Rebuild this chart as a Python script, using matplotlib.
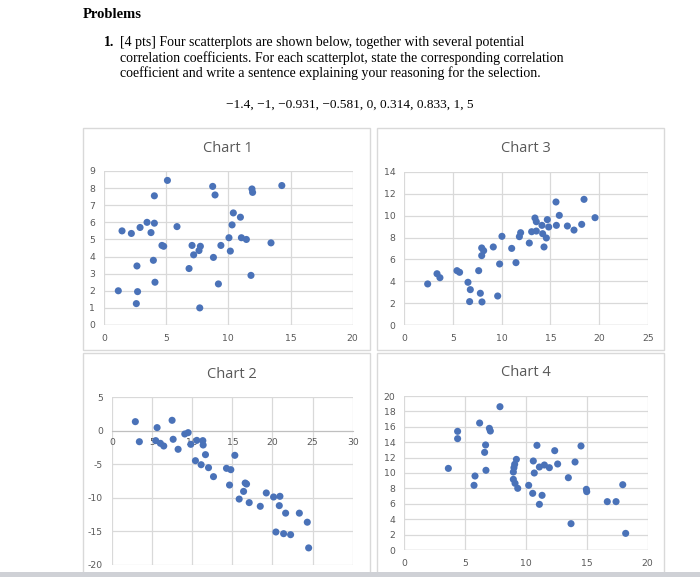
import numpy as np
import matplotlib.pyplot as plt
from matplotlib.patches import Rectangle

plt.rcParams['axes.unicode_minus'] = False

# chart 1
c1_x = [1.15, 1.45, 2.2, 2.65, 2.7, 2.6, 2.9, 3.46, 3.78, 4.05, 4.05, 3.97, 4.1, 4.66,
        4.8, 5.1, 5.87, 6.84, 7.08, 7.21, 7.64, 7.75, 7.7, 8.74, 8.93, 8.8, 9.2, 9.4,
        10.05, 10.16, 10.3, 10.4, 10.97, 11.05, 11.45, 11.9, 11.95, 11.82, 13.43, 14.3]
c1_y = [2.0, 5.5, 5.35, 3.45, 1.95, 1.25, 5.7, 6.0, 5.4, 7.55, 5.95, 3.78, 2.5, 4.65,
        4.6, 8.45, 5.75, 3.3, 4.65, 4.1, 4.35, 4.6, 1.0, 8.1, 7.6, 3.95, 2.4, 4.65,
        5.1, 4.32, 5.85, 6.55, 6.3, 5.1, 5.0, 7.95, 7.75, 2.9, 4.8, 8.15]

# chart 2
c2_x = [2.91, 3.41, 5.62, 5.45, 6.03, 6.45, 7.49, 7.62, 8.24, 9.07, 9.49, 9.82, 10.4,
        10.57, 11.11, 11.32, 11.36, 11.65, 12.03, 12.65, 14.27, 14.81, 14.65, 15.31,
        15.85, 16.4, 16.6, 16.77, 17.1, 18.48, 19.23, 20.14, 20.43, 20.93, 20.85,
        21.39, 21.64, 22.26, 23.35, 24.34, 24.51]
c2_y = [1.37, -1.62, 0.48, -1.46, -1.86, -2.26, 1.57, -1.26, -2.75, -0.47, -0.27, -2.01,
        -4.45, -1.42, -5.05, -1.46, -2.11, -3.55, -5.49, -6.83, -5.59, -5.79, -8.08,
        -3.65, -10.17, -9.03, -7.78, -7.93, -10.7, -11.25, -9.26, -9.86, -15.08, -9.76,
        -11.15, -15.33, -12.27, -15.48, -12.27, -13.62, -17.45]

# chart 3
c3_x = [2.4, 3.36, 3.66, 5.41, 5.68, 6.54, 6.78, 6.71, 7.64, 7.81, 7.98, 7.95, 8.15,
        7.95, 9.14, 9.59, 9.79, 10.03, 11.03, 11.47, 11.82, 11.95, 12.84, 13.08, 13.42,
        13.56, 13.56, 14.14, 14.21, 14.35, 14.59, 14.69, 14.83, 15.58, 15.62, 15.92,
        16.75, 17.43, 18.22, 18.46, 19.59]
c3_y = [3.77, 4.7, 4.34, 4.98, 4.83, 3.92, 3.25, 2.16, 4.98, 2.92, 2.13, 7.05, 6.8,
        6.35, 7.14, 2.67, 5.59, 8.11, 7.01, 5.71, 8.08, 8.44, 7.5, 8.53, 9.78, 9.44,
        8.59, 9.11, 8.35, 7.14, 7.96, 9.63, 8.96, 11.24, 9.11, 10.02, 9.05, 8.68, 9.2,
        11.48, 9.81]

# chart 4
c4_x = [3.62, 4.38, 4.38, 5.73, 5.81, 6.19, 6.6, 6.68, 6.71, 6.99, 7.07, 7.86, 8.96,
        8.96, 9.01, 9.07, 9.1, 9.21, 9.32, 10.22, 10.55, 10.6, 10.68, 10.9, 11.1, 11.1,
        11.32, 11.51, 11.92, 12.36, 12.6, 13.48, 13.7, 14.03, 14.52, 14.96, 14.99,
        16.68, 17.4, 17.95, 18.19]
c4_y = [10.6, 15.41, 14.46, 8.4, 9.61, 16.49, 12.68, 13.64, 10.35, 15.8, 15.45, 18.61,
        10.13, 9.18, 10.69, 11.13, 8.66, 11.77, 8.01, 8.4, 7.36, 11.56, 10.0, 13.59,
        10.78, 5.93, 7.1, 11.04, 10.69, 12.9, 11.17, 9.39, 3.42, 11.43, 13.51, 7.88,
        7.58, 6.28, 6.28, 8.48, 2.16]

coefs = "\u22121.4, \u22121, \u22120.931, \u22120.581, 0, 0.314, 0.833, 1, 5"

W, H = 700, 577
fig = plt.figure(figsize=(7, 5.77), dpi=100)
fig.patch.set_facecolor('white')


def box(x0, y0, x1, y1):
    # pixel coords (top-left origin) -> figure fraction
    return [x0 / W, 1 - y1 / H, (x1 - x0) / W, (y1 - y0) / H]


# chart panels
for (x0, y0, x1, y1) in [(83, 128, 370, 350), (377, 128, 664, 350),
                         (83, 353, 370, 600), (377, 353, 664, 600)]:
    l, b, w, h = box(x0, y0, x1, y1)
    fig.patches.append(Rectangle((l, b), w, h, transform=fig.transFigure,
                                 facecolor='white', edgecolor='#d9d9d9', lw=1.0, zorder=-2))

# gray bar at the bottom
fig.patches.append(Rectangle((0, 0), 1, (577 - 572) / H, transform=fig.transFigure,
                             facecolor='#cfd1d6', edgecolor='none', zorder=5))

serif = ['Liberation Serif', 'DejaVu Serif']
fig.text(83 / W, 1 - 15 / H, "Problems", fontsize=10.5, fontweight='bold',
         family=serif, va='center', ha='left')
fig.text(104 / W, 1 - 42 / H, "1.", fontsize=10, fontweight='bold',
         family=serif, va='center', ha='left')
lines = ["[4 pts] Four scatterplots are shown below, together with several potential",
         "correlation coefficients. For each scatterplot, state the corresponding correlation",
         "coefficient and write a sentence explaining your reasoning for the selection."]
for i, t in enumerate(lines):
    fig.text(120 / W, 1 - (42.5 + 15.3 * i) / H, t, fontsize=10, family=serif,
             va='center', ha='left')
fig.text(350 / W, 1 - 105 / H, coefs, fontsize=9.6, family=serif,
         va='center', ha='center')

blue = '#4a72b8'
grid_c = '#d9d9d9'
tick_c = '#595959'


def scatter_panel(rect, xs, ys, xlim, xstep, ylim, ystep, title, title_y, zero_axis=False):
    ax = fig.add_axes(box(*rect))
    ax.scatter(xs, ys, s=26, color=blue, edgecolors='none', zorder=3, clip_on=False)
    ax.set_xlim(*xlim)
    ax.set_ylim(*ylim)
    ax.set_xticks(np.arange(xlim[0], xlim[1] + 0.1, xstep))
    ax.set_yticks(np.arange(ylim[0], ylim[1] + 0.1, ystep))
    ax.grid(True, color=grid_c, lw=0.9, zorder=0)
    for s in ax.spines.values():
        s.set_visible(False)
    ax.tick_params(length=0, labelsize=6.7, labelcolor=tick_c, pad=6.5)
    ax.set_facecolor('none')
    if zero_axis:
        ax.spines['bottom'].set_visible(True)
        ax.spines['bottom'].set_position(('data', 0))
        ax.spines['bottom'].set_color('#bfbfbf')
        ax.tick_params(axis='x', pad=5.5)
    else:
        ax.axhline(ylim[0], color='#bfbfbf', lw=0.9, zorder=1)
    x0, y0, x1, y1 = rect
    fig.text((x0 + x1) / 2 / W, 1 - title_y / H, title, fontsize=10.5, color=tick_c,
             ha='center', va='center', family=['Open Sans', 'DejaVu Sans'])
    return ax


scatter_panel((104, 171, 352.7, 325), c1_x, c1_y, (0, 20), 5, (0, 9), 1, "Chart 1", 148)
scatter_panel((404.3, 171.7, 647.7, 325.3), c3_x, c3_y, (0, 25), 5, (0, 14), 2, "Chart 3", 148)
scatter_panel((112, 397.3, 352.7, 565), c2_x, c2_y, (0, 30), 5, (-20, 5), 5, "Chart 2", 374,
              zero_axis=True)
scatter_panel((404.3, 396, 647.7, 550), c4_x, c4_y, (0, 20), 5, (0, 20), 2, "Chart 4", 373)

fig.savefig('out.png', dpi=100, facecolor='white')
